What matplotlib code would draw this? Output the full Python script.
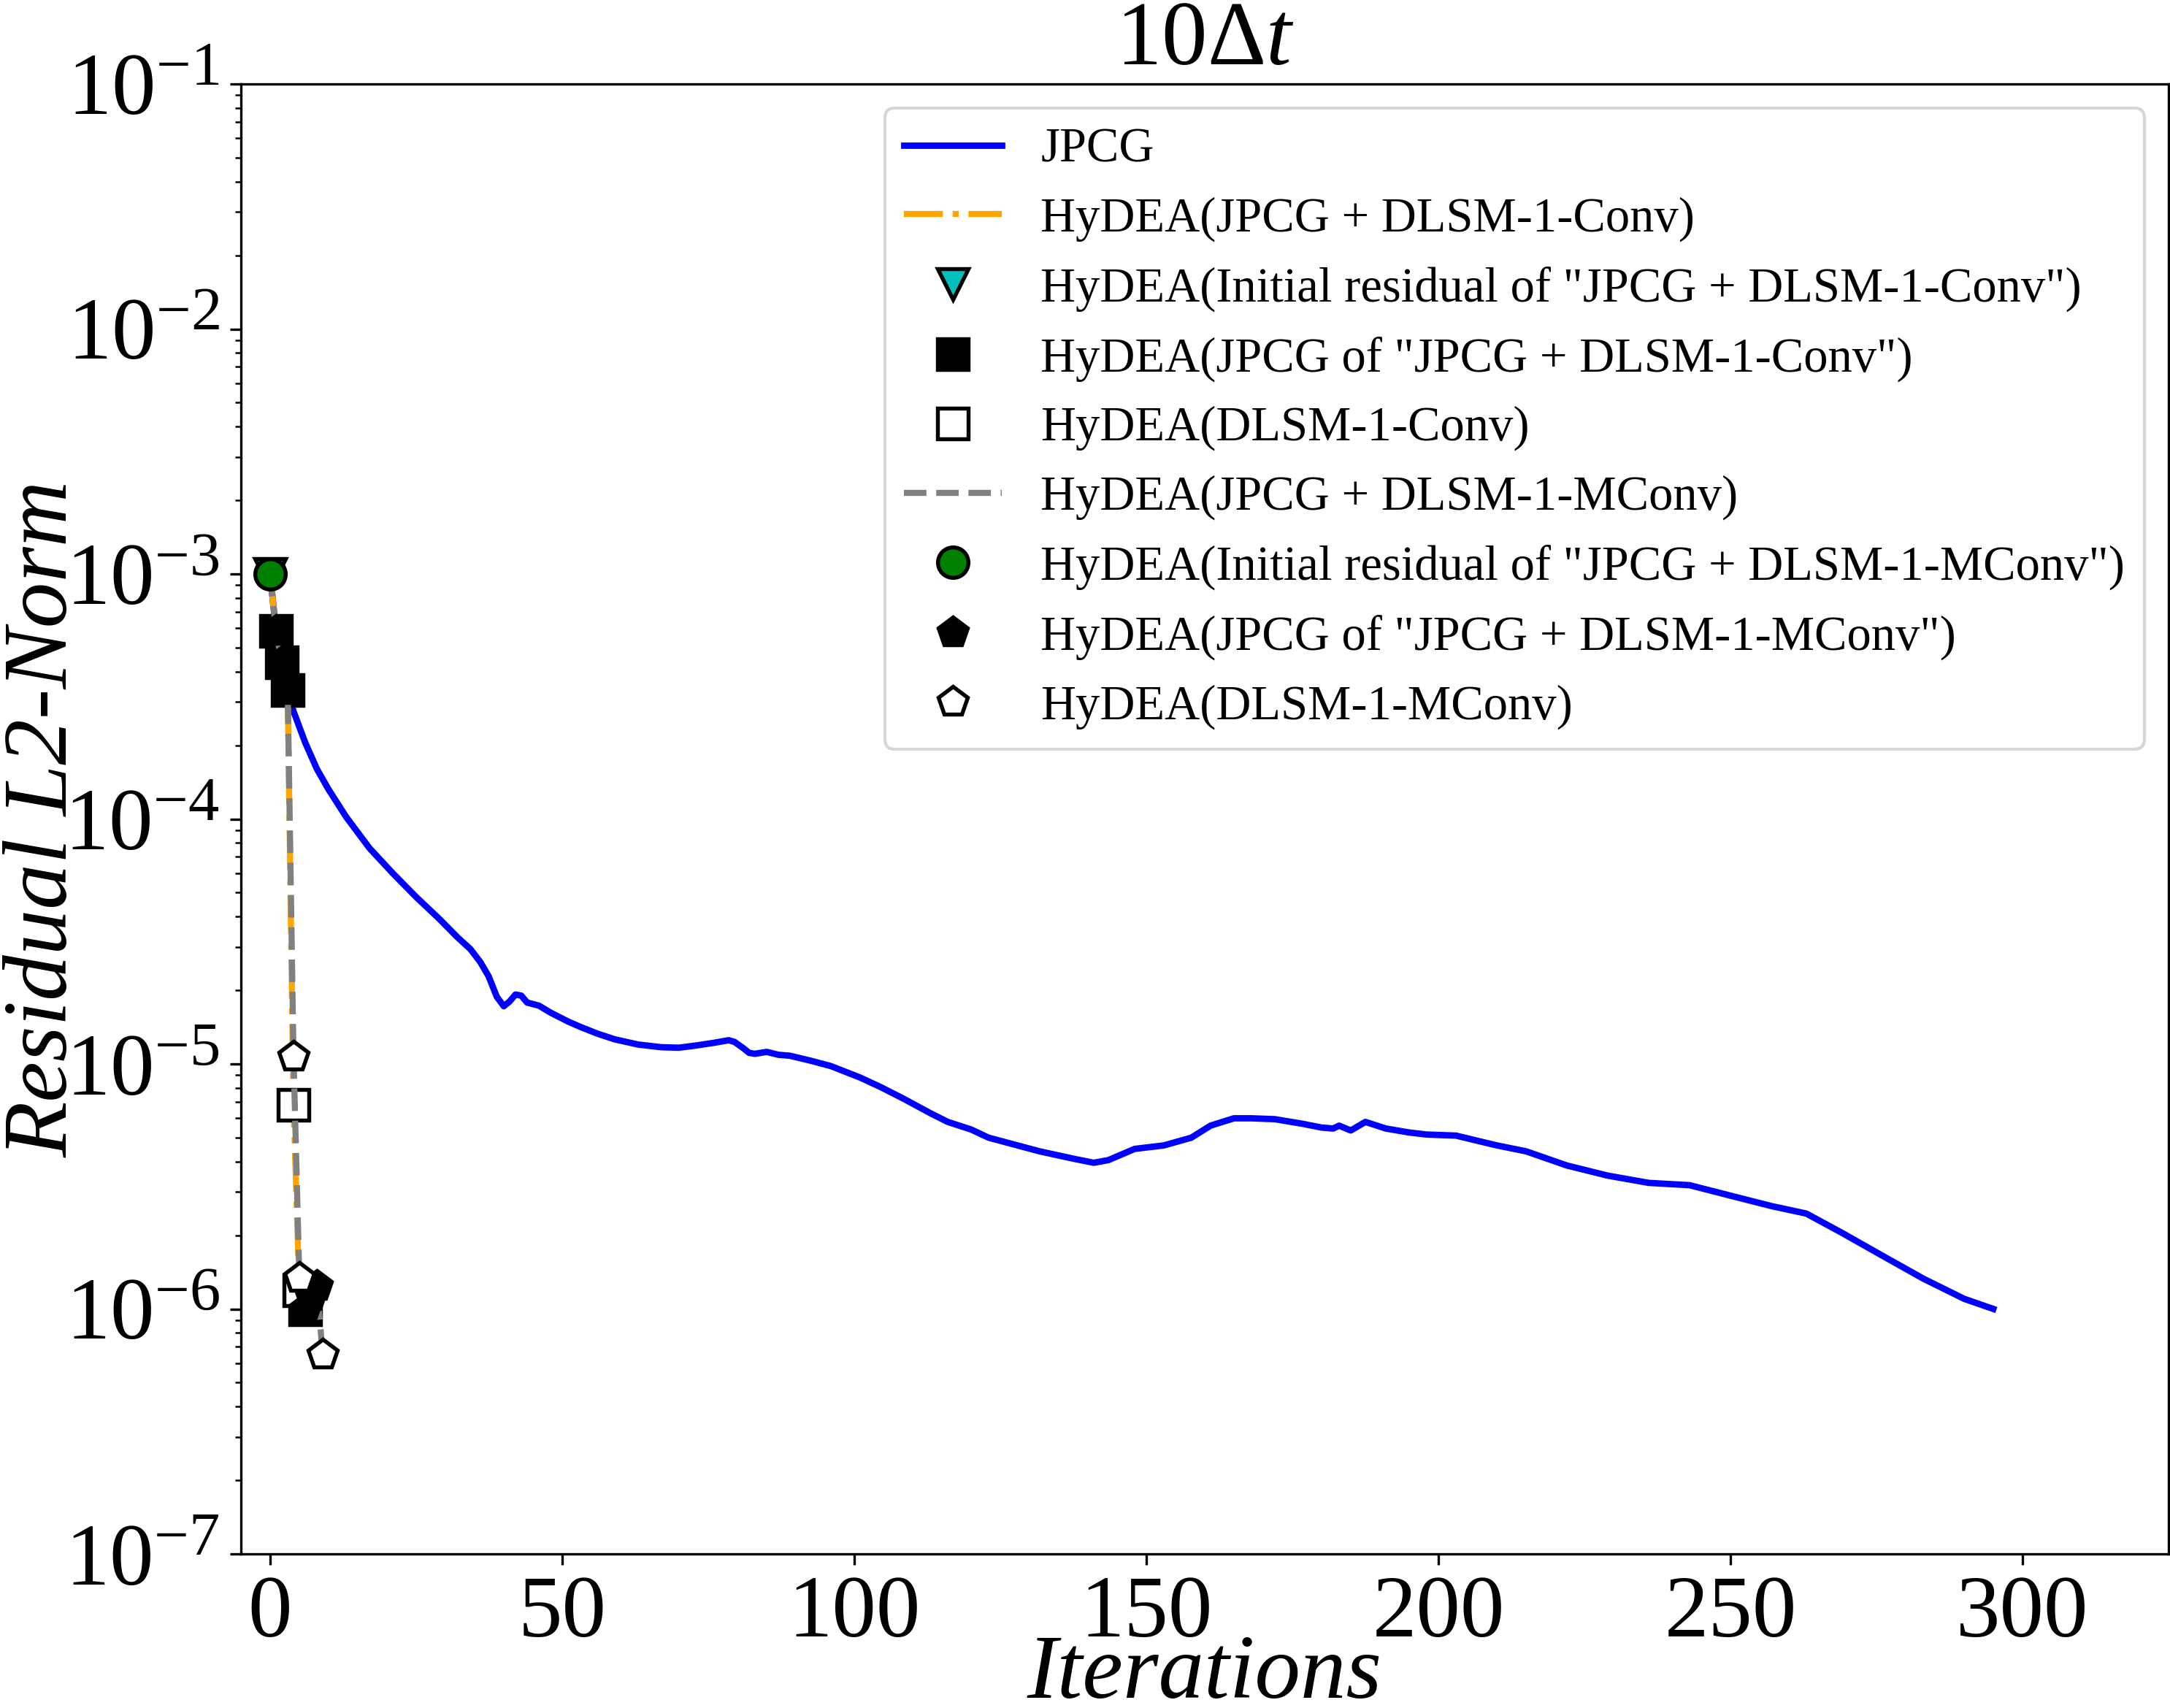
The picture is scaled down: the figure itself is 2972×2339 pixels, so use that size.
import matplotlib
matplotlib.use("Agg")
import matplotlib.pyplot as plt
import numpy as np

plt.rcParams['font.family'] = ['Liberation Serif', 'DejaVu Serif']
plt.rcParams['mathtext.fontset'] = 'custom'
plt.rcParams['mathtext.rm'] = 'Liberation Serif'
plt.rcParams['mathtext.it'] = 'Liberation Serif:italic'

# JPCG residual history
jpcg_iter = [0, 1, 2, 3, 4, 6, 8, 10, 13, 17, 21, 25, 29, 32, 34.3, 36, 37.4, 38.8, 40, 41,
             42, 43, 44, 46, 48, 51, 53, 56, 59, 63, 67, 70, 73, 76, 78.5, 79.5, 81, 82, 83,
             85, 87, 89, 92.6, 96, 101, 104.5, 108.5, 113, 116, 120, 123, 131.7, 137.6, 141,
             143.5, 148, 153, 157.7, 161, 165, 168, 172, 176.7, 180, 182, 183, 185, 187.5,
             191, 195, 198, 203, 210, 215, 222, 229, 236, 243, 250, 257, 263, 269, 276, 283,
             290, 295]
jpcg_res = [1.0e-3, 5.86e-4, 4.35e-4, 3.35e-4, 2.75e-4, 2.05e-4, 1.6e-4, 1.32e-4, 1.02e-4,
            7.6e-5, 6.0e-5, 4.8e-5, 3.9e-5, 3.3e-5, 2.94e-5, 2.6e-5, 2.28e-5, 1.88e-5, 1.72e-5,
            1.8e-5, 1.92e-5, 1.90e-5, 1.78e-5, 1.73e-5, 1.62e-5, 1.49e-5, 1.42e-5, 1.33e-5,
            1.26e-5, 1.2e-5, 1.17e-5, 1.165e-5, 1.19e-5, 1.22e-5, 1.25e-5, 1.23e-5, 1.16e-5,
            1.11e-5, 1.10e-5, 1.12e-5, 1.09e-5, 1.08e-5, 1.03e-5, 9.8e-6, 8.8e-6, 8.05e-6,
            7.2e-6, 6.3e-6, 5.8e-6, 5.4e-6, 5.0e-6, 4.4e-6, 4.1e-6, 3.95e-6, 4.05e-6, 4.5e-6,
            4.65e-6, 5.0e-6, 5.6e-6, 6.0e-6, 6.0e-6, 5.95e-6, 5.7e-6, 5.5e-6, 5.45e-6, 5.6e-6,
            5.35e-6, 5.8e-6, 5.45e-6, 5.25e-6, 5.15e-6, 5.1e-6, 4.65e-6, 4.4e-6, 3.85e-6,
            3.5e-6, 3.27e-6, 3.2e-6, 2.9e-6, 2.63e-6, 2.45e-6, 2.05e-6, 1.65e-6, 1.33e-6,
            1.1e-6, 1.0e-6]

# HyDEA(JPCG + DLSM-1-Conv)
conv_iter = [0, 1, 2, 3, 4, 5, 6]
conv_res = [1.0e-3, 5.86e-4, 4.35e-4, 3.35e-4, 6.8e-6, 1.19e-6, 1.0e-6]
conv_init = [0]
conv_jpcg = [1, 2, 3, 6]
conv_dlsm = [4, 5]

# HyDEA(JPCG + DLSM-1-MConv)
mconv_iter = [0, 1, 2, 3, 4, 5, 6, 7, 8, 9]
mconv_res = [1.0e-3, 5.86e-4, 4.35e-4, 3.35e-4, 1.07e-5, 1.34e-6, 1.0e-6, 1.13e-6, 1.24e-6, 6.5e-7]
mconv_init = [0]
mconv_jpcg = [1, 2, 3, 6, 7, 8]
mconv_dlsm = [4, 5, 9]

labels = ['JPCG',
          'HyDEA(JPCG + DLSM-1-Conv)',
          'HyDEA(Initial residual of "JPCG + DLSM-1-Conv")',
          'HyDEA(JPCG of "JPCG + DLSM-1-Conv")',
          'HyDEA(DLSM-1-Conv)',
          'HyDEA(JPCG + DLSM-1-MConv)',
          'HyDEA(Initial residual of "JPCG + DLSM-1-MConv")',
          'HyDEA(JPCG of "JPCG + DLSM-1-MConv")',
          'HyDEA(DLSM-1-MConv)']


def pick(xs, ys, idx):
    return [xs[i] for i in idx], [ys[i] for i in idx]


fig = plt.figure(figsize=(2972 / 300, 2339 / 300), dpi=300)
ax = fig.add_axes([330 / 2972, 1 - 2128 / 2339, 2640 / 2972, 2013 / 2339])

ms = 10
mew = 1.3
ax.plot(jpcg_iter, jpcg_res, color='blue', lw=2.1, label=labels[0])

ax.plot(conv_iter, conv_res, color='orange', ls='-.', lw=2, label=labels[1])
x, y = pick(conv_iter, conv_res, conv_init)
ax.plot(x, y, 'v', color='c', mec='k', ms=ms, mew=mew, ls='none', label=labels[2])
x, y = pick(conv_iter, conv_res, conv_jpcg)
ax.plot(x, y, 's', color='k', mec='k', ms=ms, mew=mew, ls='none', label=labels[3])
x, y = pick(conv_iter, conv_res, conv_dlsm)
ax.plot(x, y, 's', color='w', mec='k', ms=ms, mew=mew, ls='none', label=labels[4])

ax.plot(mconv_iter, mconv_res, color='gray', ls='--', lw=2, label=labels[5])
x, y = pick(mconv_iter, mconv_res, mconv_init)
ax.plot(x, y, 'o', color='green', mec='k', ms=ms, mew=mew, ls='none', label=labels[6])
x, y = pick(mconv_iter, mconv_res, mconv_jpcg)
ax.plot(x, y, 'p', color='k', mec='k', ms=ms, mew=mew, ls='none', label=labels[7])
x, y = pick(mconv_iter, mconv_res, mconv_dlsm)
ax.plot(x, y, 'p', color='w', mec='k', ms=ms, mew=mew, ls='none', label=labels[8])

ax.set_yscale('log')
ax.set_ylim(1e-7, 1e-1)
ax.set_xlim(-5, 325)
ax.set_xticks([0, 50, 100, 150, 200, 250, 300])
ax.tick_params(axis='both', which='major', labelsize=29)

ax.set_xlabel('Iterations', fontsize=30, fontstyle='italic', labelpad=-7)
ax.set_ylabel('Residual L2-Norm', fontsize=30, fontstyle='italic')
ax.yaxis.set_label_coords(-0.08, 0.5)
ax.set_title(r'$10\Delta t$', fontsize=30)

ax.legend(loc='upper right', fontsize=16)

fig.savefig('out.png', dpi=300)
